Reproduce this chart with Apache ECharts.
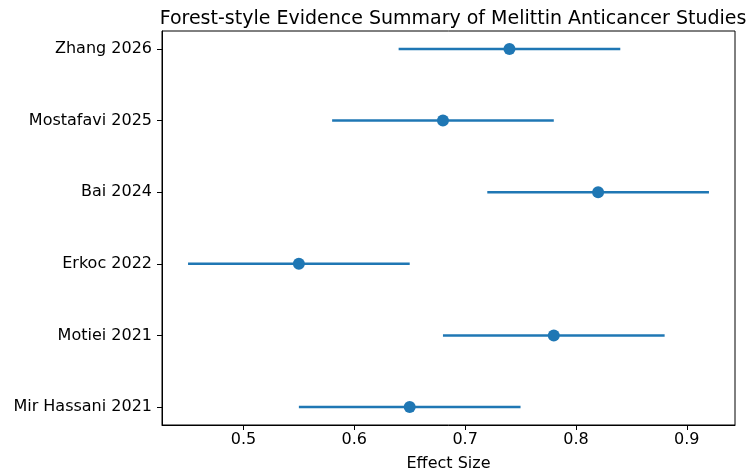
<!DOCTYPE html>
<html>
<head>
<meta charset="utf-8">
<script src="https://cdn.jsdelivr.net/npm/echarts@6/dist/echarts.min.js"></script>
<style>
  html, body { margin: 0; padding: 0; background: #fff; }
  #myChart { width: 748px; height: 472px; }
</style>
</head>
<body>
<div id="myChart"></div>
<script>
  // studies listed bottom to top (y = 0 is the bottom row)
  const studies = ['Mir Hassani 2021', 'Motiei 2021', 'Erkoc 2022', 'Bai 2024', 'Mostafavi 2025', 'Zhang 2026'];
  const effect = [0.65, 0.78, 0.55, 0.82, 0.68, 0.74];
  const lower = [0.55, 0.68, 0.45, 0.72, 0.58, 0.64];
  const upper = [0.75, 0.88, 0.65, 0.92, 0.78, 0.84];
  const xTicks = [0.5, 0.6, 0.7, 0.8, 0.9];

  const blue = '#1f77b4';
  const font = 'DejaVu Sans';

  let myChart = echarts.init(document.getElementById('myChart'));

  const ciData = studies.map((s, i) => [lower[i], upper[i], i]);
  const pointData = studies.map((s, i) => [effect[i], i]);

  myChart.setOption({
    animation: false,
    title: {
      text: 'Forest-style Evidence Summary of Melittin Anticancer Studies',
      left: 448,
      top: 5,
      textAlign: 'center',
      textStyle: { fontFamily: font, fontWeight: 'normal', fontSize: 19, color: '#000' }
    },
    grid: {
      left: 162, right: 13, top: 31, bottom: 47,
      outerBoundsMode: 'none',
      show: true, borderColor: '#000', borderWidth: 1, backgroundColor: '#fff'
    },
    xAxis: {
      type: 'value',
      min: 0.4265,
      max: 0.9435,
      name: 'Effect Size',
      nameLocation: 'middle',
      nameGap: 31,
      nameTextStyle: { fontFamily: font, fontSize: 16, color: '#000' },
      axisLine: { show: true, onZero: false, lineStyle: { color: '#000' } },
      axisTick: { show: true, length: 5, customValues: xTicks, lineStyle: { color: '#000' } },
      axisLabel: {
        customValues: xTicks, fontFamily: font, fontSize: 16, color: '#000', margin: 7,
        formatter: v => v.toFixed(1)
      },
      splitLine: { show: false }
    },
    yAxis: {
      type: 'value',
      min: -0.25,
      max: 5.25,
      axisLine: { show: true, onZero: false, lineStyle: { color: '#000' } },
      axisTick: { show: true, length: 5, customValues: [0, 1, 2, 3, 4, 5], lineStyle: { color: '#000' } },
      axisLabel: {
        customValues: [0, 1, 2, 3, 4, 5], fontFamily: font, fontSize: 16, color: '#000', margin: 10,
        formatter: v => studies[Math.round(v)]
      },
      splitLine: { show: false }
    },
    series: [
      {
        type: 'custom',
        data: ciData,
        encode: { x: [0, 1], y: 2 },
        renderItem: function (params, api) {
          const a = api.coord([api.value(0), api.value(2)]);
          const b = api.coord([api.value(1), api.value(2)]);
          return {
            type: 'line',
            shape: { x1: a[0], y1: a[1], x2: b[0], y2: b[1] },
            style: { stroke: blue, lineWidth: 2.5 }
          };
        }
      },
      {
        type: 'scatter',
        data: pointData,
        symbol: 'circle',
        symbolSize: 12,
        itemStyle: { color: blue, opacity: 1 },
        z: 5
      }
    ]
  });
</script>
</body>
</html>
